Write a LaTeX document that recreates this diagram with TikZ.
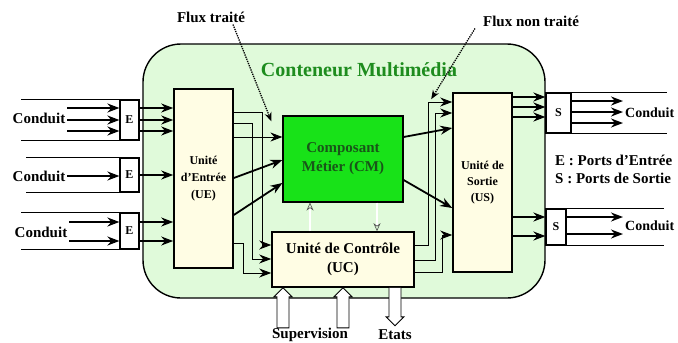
\documentclass[tikz,border=0pt]{standalone}
\usepackage{fontspec}
\setmainfont{Liberation Serif}
\usetikzlibrary{arrows.meta, positioning}

\definecolor{contgreen}{RGB}{224,250,218}
\definecolor{unityellow}{RGB}{255,253,228}
\definecolor{cmgreen}{RGB}{24,226,24}
\definecolor{titlegreen}{RGB}{30,140,30}
\definecolor{cmtext}{RGB}{25,85,25}

\begin{document}
\begin{tikzpicture}[x=1pt, y=-1pt, ->, >={Stealth[length=12pt, width=9pt]},
  font=\fontsize{15}{17}\selectfont\bfseries,
  lab/.style={inner sep=2pt},
  box/.style={draw, line width=1.6pt, fill=unityellow, align=center, inner sep=0pt},
  port/.style={draw, line width=1.2pt, fill=white, inner sep=0pt, font=\fontsize{12}{12}\selectfont\bfseries},
  wall/.style={-, line width=0.8pt},
  pipe/.style={line width=1.8pt},
  link/.style={line width=0.9pt},
  flux/.style={densely dotted, line width=1.3pt, -{Stealth[length=9pt, width=7pt]}},
  ctrl/.style={double, double distance=1.6pt, line width=0.6pt, draw=black!70, -{Stealth[open, length=8pt, width=7pt]}},
  bigarrow/.style={-, draw, line width=0.9pt, fill=white}]

  \useasboundingbox (0,0) rectangle (678,343);

  % conteneur
  \node[draw, line width=1.4pt, fill=contgreen, rounded corners=38pt, minimum width=402pt, minimum height=254pt] (cont) at (344,171) {};
  \node[text=titlegreen, font=\fontsize{20}{22}\selectfont\bfseries] (titre) at (359,70) {Conteneur Multimédia};

  % ports
  \node[port, minimum width=19pt, minimum height=40pt] (e1) at (129.5,120) {E};
  \node[port, minimum width=19pt, minimum height=34pt] (e2) at (129.5,175) {E};
  \node[port, minimum width=19pt, minimum height=36pt] (e3) at (129.5,231) {E};
  \node[port, minimum width=25pt, minimum height=40pt] (s1) at (558.5,113) {S};
  \node[port, minimum width=20pt, minimum height=36pt] (s2) at (556,227) {S};

  % unites
  \node[box, minimum width=59pt, minimum height=179pt, font=\fontsize{12}{17}\selectfont\bfseries] (ue) at (203.5,178.5) {Unité\\d'Entrée\\(UE)};
  \node[draw, line width=1.2pt, fill=cmgreen, minimum width=120pt, minimum height=86pt, align=center, text=cmtext, font=\fontsize{15}{19}\selectfont\bfseries] (cm) at (343,159) {Composant\\Métier (CM)};
  \node[box, minimum width=142pt, minimum height=55pt, font=\fontsize{15}{19}\selectfont\bfseries] (uc) at (343,259.5) {Unité de Contrôle\\(UC)};
  \node[box, minimum width=59pt, minimum height=179pt, font=\fontsize{12}{16}\selectfont\bfseries] (us) at (482.5,182.5) {Unité de\\Sortie\\(US)};

  % textes
  \node[lab] (co1) at (39,118) {Conduit};
  \node[lab] (co2) at (39,176) {Conduit};
  \node[lab] (co3) at (41,232) {Conduit};
  \node[lab, anchor=west, font=\fontsize{14}{16}\selectfont\bfseries] (co4) at (623,113) {Conduit};
  \node[lab, anchor=west, font=\fontsize{14}{16}\selectfont\bfseries] (co5) at (623,226) {Conduit};
  \node[lab] (ft) at (211,17) {Flux traité};
  \node[lab] (fnt) at (531,21) {Flux non traité};
  \node[lab, anchor=west] (legE) at (553,160) {E : Ports d'Entrée};
  \node[lab, anchor=west] (legS) at (553,178) {S : Ports de Sortie};
  \node[lab] (sup) at (310,335) {Supervision};
  \node[lab] (etat) at (395,335) {Etats};

  % conduits
  \draw[wall] (e1.north west) -- ++(-98,0);
  \draw[wall] (e1.south west) -- ++(-98,0);
  \draw[wall] (e2.north west) -- ++(-93,0);
  \draw[wall] (e2.south west) -- ++(-93,0);
  \draw[wall] (e3.north west) -- ++(-98,0);
  \draw[wall] (e3.south west) -- ++(-98,0);
  \draw[wall] (s1.north west) -- ++(122,0);
  \draw[wall] (s1.south west) -- ++(122,0);
  \draw[wall] (s2.north west) -- ++(119,0);
  \draw[wall] (s2.south west) -- ++(119,0);

  \draw[pipe] (co1.east |- 0,108) -- (e1.west |- 0,108);
  \draw[pipe] (co1.east |- 0,120) -- (e1.west |- 0,120);
  \draw[pipe] (co1.east |- 0,131) -- (e1.west |- 0,131);
  \draw[pipe] (co2.east) -- (e2.west |- co2.east);
  \draw[pipe] (co3.east |- 0,222) -- (e3.west |- 0,222);
  \draw[pipe] (co3.east |- 0,241) -- (e3.west |- 0,241);

  \draw[pipe] (e1.east |- 0,108) -- (ue.west |- 0,108);
  \draw[pipe] (e1.east |- 0,120) -- (ue.west |- 0,120);
  \draw[pipe] (e1.east |- 0,131) -- (ue.west |- 0,131);
  \draw[pipe] (e2.east) -- (ue.west |- e2.east);
  \draw[pipe] (e3.east |- 0,222) -- (ue.west |- 0,222);
  \draw[pipe] (e3.east |- 0,241) -- (ue.west |- 0,241);

  % flux internes
  \draw[link] (ue.east |- 0,112) -- ++(29,0) |- (uc.west |- 0,245);
  \draw[link] (ue.east |- 0,123) -- ++(19,0) |- (uc.west |- 0,259);
  \draw[link] (ue.east |- 0,137) -- (cm.west |- 0,137);
  \draw[pipe] (ue.east |- 0,178) -- (cm.west |- 0,160);
  \draw[pipe] (ue.east |- 0,215) -- (cm.west |- 0,183);
  \draw[link] (ue.east |- 0,243) -- ++(10,0) |- (uc.west |- 0,273);

  \draw[link] (uc.east |- 0,245) -- ++(14,0) |- (us.west |- 0,102);
  \draw[link] (uc.east |- 0,260) -- ++(21,0) |- (us.west |- 0,113);
  \draw[link] (uc.east |- 0,272) -- ++(28,0) |- (us.west |- 0,235);
  \draw[pipe] (cm.east |- 0,137) -- (us.west |- 0,128);
  \draw[pipe] (cm.east |- 0,180) -- (us.west |- 0,208);

  \draw[ctrl] (uc.north -| 310,0) -- (cm.south -| 310,0);
  \draw[ctrl] (cm.south -| 377,0) -- (uc.north -| 377,0);

  \draw[pipe] (us.east |- 0,97) -- (s1.west |- 0,97);
  \draw[pipe] (us.east |- 0,107) -- (s1.west |- 0,107);
  \draw[pipe] (us.east |- 0,117) -- (s1.west |- 0,117);
  \draw[pipe] (us.east |- 0,217) -- (s2.west |- 0,217);
  \draw[pipe] (us.east |- 0,236) -- (s2.west |- 0,236);

  \draw[pipe] (s1.east |- 0,101) -- (co4.west |- 0,101);
  \draw[pipe] (s1.east |- 0,112) -- (co4.west |- 0,112);
  \draw[pipe] (s1.east |- 0,123) -- (co4.west |- 0,123);
  \draw[pipe] (s2.east |- 0,217) -- (co5.west |- 0,217);
  \draw[pipe] (s2.east |- 0,234) -- (co5.west |- 0,234);

  % flux traite / non traite
  \draw[flux] ([xshift=22pt]ft.south) -- ([xshift=-11pt, yshift=-6pt]cm.north west);
  \draw[flux] ([xshift=-56pt]fnt.south) -- ([xshift=-21pt, yshift=-7pt]us.north west);

  % supervision et etats
  \draw[bigarrow] (uc.south -| 283,0) -- ++(9,9) -- ++(-3,0) -- ++(0,31) -- ++(-12,0) -- ++(0,-31) -- ++(-3,0) -- cycle;
  \draw[bigarrow] (uc.south -| 343,0) -- ++(9,9) -- ++(-3,0) -- ++(0,31) -- ++(-12,0) -- ++(0,-31) -- ++(-3,0) -- cycle;
  \draw[bigarrow] (uc.south -| 389,0) -- ++(0,29) -- ++(-3,0) -- ++(9,9) -- ++(9,-9) -- ++(-3,0) -- ++(0,-29);

\end{tikzpicture}
\end{document}
